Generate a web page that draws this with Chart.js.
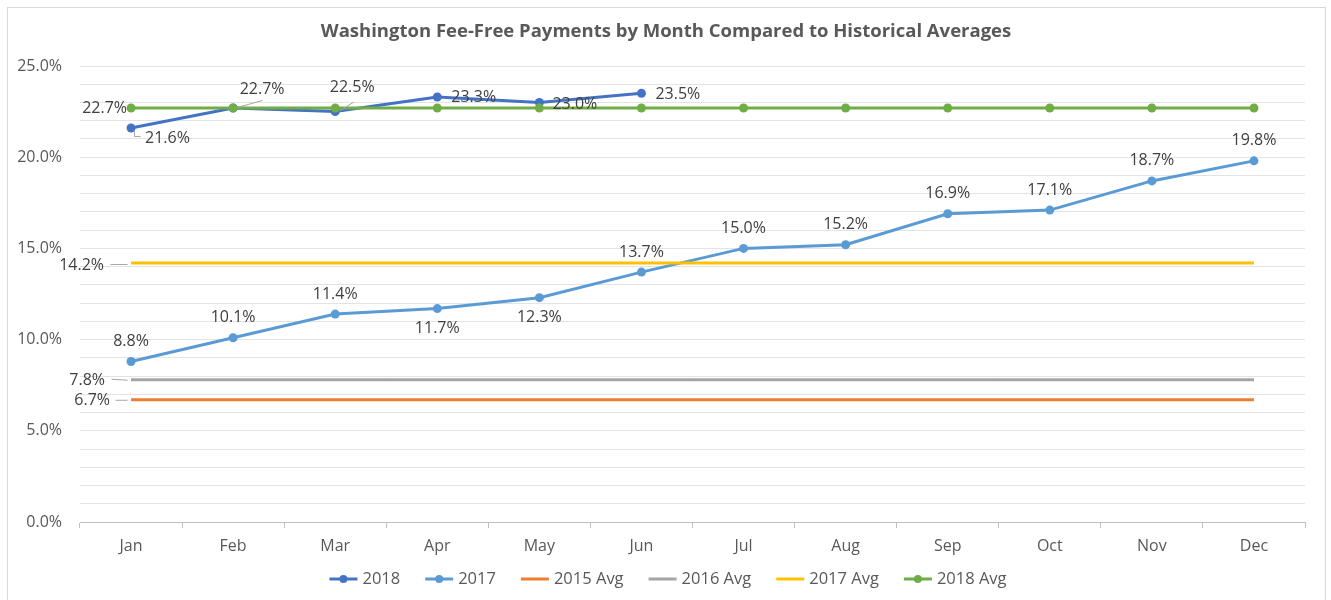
<!DOCTYPE html>
<html><head><meta charset="utf-8">
<script src="https://cdn.jsdelivr.net/npm/chart.js@4/dist/chart.umd.min.js"></script>
<style>html,body{margin:0;padding:0;background:#fff;}canvas{display:block;}</style>
</head><body>
<canvas id="c" width="1331" height="600"></canvas>
<script>
// ---- data ----
const months = ['Jan','Feb','Mar','Apr','May','Jun','Jul','Aug','Sep','Oct','Nov','Dec'];
const series2018 = [21.6, 22.7, 22.5, 23.3, 23.0, 23.5, null, null, null, null, null, null];
const series2017 = [8.8, 10.1, 11.4, 11.7, 12.3, 13.7, 15.0, 15.2, 16.9, 17.1, 18.7, 19.8];
const avg2015 = [6.7, 6.7, 6.7, 6.7, 6.7, 6.7, 6.7, 6.7, 6.7, 6.7, 6.7, 6.7];
const avg2016 = [7.8, 7.8, 7.8, 7.8, 7.8, 7.8, 7.8, 7.8, 7.8, 7.8, 7.8, 7.8];
const avg2017 = [14.2, 14.2, 14.2, 14.2, 14.2, 14.2, 14.2, 14.2, 14.2, 14.2, 14.2, 14.2];
const avg2018 = [22.7, 22.7, 22.7, 22.7, 22.7, 22.7, 22.7, 22.7, 22.7, 22.7, 22.7, 22.7];
const yTickValues = [0,1,2,3,4,5,6,7,8,9,10,11,12,13,14,15,16,17,18,19,20,21,22,23,24,25];
const titleText = 'Washington Fee-Free Payments by Month Compared to Historical Averages';

// ---- styling ----
const FONT = '"Open Sans", "DejaVu Sans", sans-serif';
const labelColor = '#404040';
const axisText = '#595959';

// label layout per dataset (style only): a = align, dx/dy offsets of text anchor, leader relative points
const labelLayout = [
  [ {a:'left', dx:14, dy:10, leader:[[3,3],[3,8],[9,8]]},
    {a:'center', dx:29, dy:-19, leader:[[4,-1],[29,-8]]},
    {a:'center', dx:17, dy:-24, leader:[[4,-1],[18,-10]]},
    {a:'left', dx:14, dy:0},
    {a:'left', dx:13, dy:2},
    {a:'left', dx:14, dy:1} ],
  [ {a:'center',dx:0,dy:-20},{a:'center',dx:0,dy:-20},{a:'center',dx:0,dy:-20},
    {a:'center',dx:0,dy:20},{a:'center',dx:0,dy:20},{a:'center',dx:0,dy:-20},
    {a:'center',dx:0,dy:-20},{a:'center',dx:0,dy:-20},{a:'center',dx:0,dy:-20},
    {a:'center',dx:0,dy:-20},{a:'center',dx:0,dy:-20},{a:'center',dx:0,dy:-20} ],
  [ {a:'right', dx:-21, dy:1, leader:[[-16,0],[-4,0]]} ],
  [ {a:'right', dx:-26, dy:1, leader:[[-20,-1],[-4,0]]} ],
  [ {a:'right', dx:-27, dy:2, leader:[[-21,1],[-4,1]]} ],
  [ {a:'right', dx:-4, dy:0} ]
];

const frameAndTitle = {
  id: 'frameAndTitle',
  beforeDraw(chart) {
    const ctx = chart.ctx;
    ctx.save();
    ctx.fillStyle = '#fff';
    ctx.fillRect(0, 0, chart.width, chart.height);
    ctx.strokeStyle = '#d9d9d9';
    ctx.lineWidth = 1;
    ctx.strokeRect(7.5, 7.5, 1318, 700);
    ctx.fillStyle = axisText;
    ctx.font = 'bold 18.5px ' + FONT;
    ctx.textAlign = 'center';
    ctx.textBaseline = 'middle';
    ctx.fillText(titleText, 666, 32);
    ctx.restore();
  }
};

const dataLabels = {
  id: 'dataLabels',
  afterDatasetsDraw(chart) {
    const ctx = chart.ctx;
    ctx.save();
    ctx.font = '16px ' + FONT;
    ctx.textBaseline = 'middle';
    chart.data.datasets.forEach((ds, di) => {
      const meta = chart.getDatasetMeta(di);
      const layout = labelLayout[di];
      layout.forEach((L, i) => {
        const v = ds.data[i];
        if (v === null || v === undefined) return;
        const el = meta.data[i];
        const x = el.x, y = el.y;
        if (L.leader) {
          ctx.strokeStyle = '#a6a6a6';
          ctx.lineWidth = 1;
          ctx.beginPath();
          L.leader.forEach((p, k) => {
            if (k === 0) ctx.moveTo(x + p[0] + 0.5, y + p[1] + 0.5);
            else ctx.lineTo(x + p[0] + 0.5, y + p[1] + 0.5);
          });
          ctx.stroke();
        }
        ctx.fillStyle = labelColor;
        ctx.textAlign = L.a;
        ctx.fillText(v.toFixed(1) + '%', x + L.dx, y + L.dy);
      });
    });
    ctx.restore();
  }
};

const customLegend = {
  id: 'customLegend',
  afterDraw(chart) {
    const ctx = chart.ctx;
    ctx.save();
    ctx.font = '16.5px ' + FONT;
    ctx.textBaseline = 'middle';
    ctx.textAlign = 'left';
    const symW = 28, gapT = 5, gapI = 25;
    const items = chart.data.datasets.map(ds => ({ds, w: symW + gapT + ctx.measureText(ds.label).width}));
    const total = items.reduce((s, it) => s + it.w, 0) + gapI * (items.length - 1);
    let x = 668 - total / 2;
    const y = 579;
    items.forEach(it => {
      const ds = it.ds;
      ctx.strokeStyle = ds.borderColor;
      ctx.lineWidth = 3;
      ctx.beginPath();
      ctx.moveTo(x, y);
      ctx.lineTo(x + symW, y);
      ctx.stroke();
      if (ds.pointRadius > 0) {
        ctx.fillStyle = ds.borderColor;
        ctx.beginPath();
        ctx.arc(x + symW / 2, y, 4, 0, Math.PI * 2);
        ctx.fill();
      }
      ctx.fillStyle = axisText;
      ctx.fillText(ds.label, x + symW + gapT, y);
      x += it.w + gapI;
    });
    ctx.restore();
  }
};

function lineDs(label, data, color, marker, order) {
  return {
    label, data, order,
    borderColor: color, backgroundColor: color,
    borderWidth: 3,
    pointRadius: marker ? 4.5 : 0,
    pointBorderWidth: 0,
    pointBackgroundColor: color,
    tension: 0,
    spanGaps: false
  };
}

new Chart(document.getElementById('c'), {
  type: 'line',
  data: {
    labels: months,
    datasets: [
      lineDs('2018', series2018, '#4472C4', true, 6),
      lineDs('2017', series2017, '#5B9BD5', true, 5),
      lineDs('2015 Avg', avg2015, '#ED7D31', false, 4),
      lineDs('2016 Avg', avg2016, '#A5A5A5', false, 3),
      lineDs('2017 Avg', avg2017, '#FFC000', false, 2),
      lineDs('2018 Avg', avg2018, '#70AD47', true, 1)
    ]
  },
  options: {
    responsive: false,
    animation: false,
    events: [],
    layout: { padding: { top: 66, left: 0, right: 26, bottom: 0 } },
    plugins: { legend: { display: false }, title: { display: false }, tooltip: { enabled: false } },
    scales: {
      x: {
        type: 'category',
        offset: true,
        grid: { display: true, drawOnChartArea: false, drawTicks: true, tickLength: 6, color: '#bfbfbf', offset: true },
        border: { display: true, color: '#bfbfbf', width: 1 },
        ticks: { color: axisText, font: { family: FONT, size: 16 }, padding: 9, maxRotation: 0, autoSkip: false },
        afterFit(s) { s.height = 78; }
      },
      y: {
        min: 0, max: 25,
        afterBuildTicks(s) { s.ticks = yTickValues.map(v => ({ value: v })); },
        grid: { color: '#e3e3e3', drawTicks: false, lineWidth: 1 },
        border: { display: false },
        ticks: {
          autoSkip: false,
          color: axisText, font: { family: FONT, size: 16 }, padding: 18,
          callback: v => (v % 5 === 0 ? v.toFixed(1) + '%' : '')
        },
        afterFit(s) { s.width = 80; }
      }
    }
  },
  plugins: [frameAndTitle, dataLabels, customLegend]
});
</script>
</body></html>
